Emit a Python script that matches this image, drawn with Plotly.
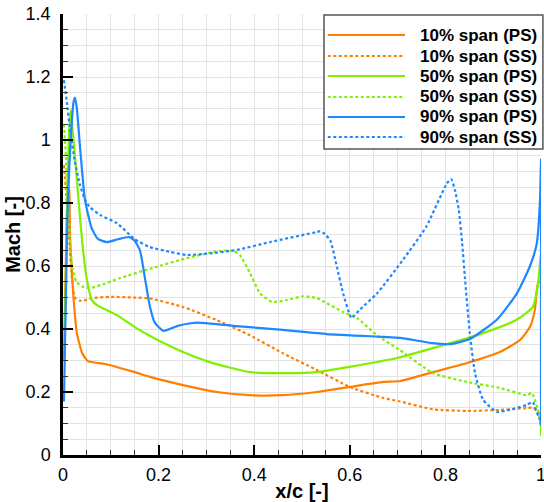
import plotly.graph_objects as go

# Blade-surface isentropic Mach distributions at three span heights
# PS = pressure side, SS = suction side

x_10_ps = [0.002, 0.006, 0.010, 0.013, 0.015, 0.021, 0.029, 0.040, 0.052, 0.088, 0.150, 0.182, 0.251, 0.322,
           0.391, 0.460, 0.531, 0.600, 0.670, 0.705, 0.774, 0.845, 0.914, 0.956, 0.977, 0.987, 0.994, 1.000, 1.000]
m_10_ps = [0.30, 0.62, 0.86, 0.84, 0.68, 0.52, 0.387, 0.324, 0.298, 0.289, 0.263, 0.248, 0.222, 0.200,
           0.190, 0.190, 0.200, 0.216, 0.232, 0.235, 0.263, 0.292, 0.327, 0.365, 0.407, 0.460, 0.546, 0.550, 0.13]

x_10_ss = [0.002, 0.008, 0.014, 0.019, 0.025, 0.035, 0.042, 0.061, 0.098, 0.147, 0.182, 0.251, 0.322, 0.391,
           0.460, 0.531, 0.600, 0.670, 0.705, 0.774, 0.845, 0.914, 0.970, 0.985, 0.992, 1.000]
m_10_ss = [0.92, 0.80, 0.66, 0.556, 0.50, 0.49, 0.49, 0.498, 0.502, 0.500, 0.497, 0.470, 0.428, 0.380,
           0.323, 0.270, 0.216, 0.181, 0.170, 0.145, 0.140, 0.143, 0.149, 0.150, 0.137, 0.13]

x_50_ps = [0.004, 0.008, 0.012, 0.016, 0.019, 0.025, 0.033, 0.040, 0.050, 0.061, 0.071, 0.113, 0.150, 0.182,
           0.251, 0.307, 0.391, 0.460, 0.531, 0.600, 0.699, 0.810, 0.879, 0.950, 0.983, 0.994, 1.000, 1.000]
m_50_ps = [0.40, 0.75, 1.00, 1.095, 1.05, 0.95, 0.80, 0.68, 0.556, 0.49, 0.476, 0.444, 0.406, 0.378,
           0.327, 0.295, 0.263, 0.260, 0.263, 0.280, 0.308, 0.355, 0.387, 0.430, 0.470, 0.546, 0.640, 0.06]

x_50_ss = [0.002, 0.006, 0.010, 0.019, 0.028, 0.040, 0.056, 0.080, 0.120, 0.188, 0.259, 0.328, 0.356, 0.370,
           0.391, 0.412, 0.437, 0.469, 0.502, 0.531, 0.552, 0.586, 0.615, 0.657, 0.705, 0.774, 0.845, 0.914,
           0.970, 0.981, 0.992, 1.000]
m_50_ss = [1.05, 0.95, 0.81, 0.60, 0.55, 0.535, 0.53, 0.54, 0.562, 0.594, 0.625, 0.648, 0.648, 0.635,
           0.578, 0.514, 0.486, 0.492, 0.504, 0.498, 0.482, 0.454, 0.435, 0.380, 0.333, 0.260, 0.232, 0.213,
           0.190, 0.197, 0.152, 0.09]

x_90_ps = [0.002, 0.006, 0.010, 0.016, 0.022, 0.025, 0.029, 0.036, 0.046, 0.060, 0.073, 0.092, 0.115, 0.138,
           0.150, 0.161, 0.172, 0.182, 0.192, 0.210, 0.240, 0.280, 0.356, 0.460, 0.552, 0.670, 0.705, 0.774,
           0.810, 0.851, 0.908, 0.950, 0.977, 0.991, 0.998, 1.000, 1.000]
m_90_ps = [0.17, 0.50, 0.80, 1.00, 1.12, 1.135, 1.10, 0.97, 0.81, 0.72, 0.686, 0.676, 0.685, 0.692,
           0.680, 0.650, 0.556, 0.470, 0.420, 0.394, 0.410, 0.420, 0.410, 0.397, 0.384, 0.375, 0.372, 0.355,
           0.352, 0.368, 0.430, 0.514, 0.600, 0.670, 0.810, 0.940, 0.10]

x_90_ss = [0.002, 0.008, 0.015, 0.025, 0.035, 0.046, 0.056, 0.080, 0.113, 0.150, 0.182, 0.224, 0.259, 0.307,
           0.364, 0.433, 0.531, 0.538, 0.545, 0.559, 0.573, 0.586, 0.600, 0.604, 0.620, 0.657, 0.711, 0.760,
           0.803, 0.812, 0.820, 0.828, 0.835, 0.841, 0.851, 0.862, 0.879, 0.908, 0.941, 0.970, 0.983, 0.990,
           0.998, 1.000]
m_90_ss = [1.19, 1.12, 1.03, 0.93, 0.86, 0.81, 0.787, 0.76, 0.736, 0.685, 0.660, 0.645, 0.635, 0.640,
           0.651, 0.676, 0.708, 0.711, 0.705, 0.682, 0.597, 0.513, 0.444, 0.435, 0.460, 0.513, 0.619, 0.725,
           0.862, 0.876, 0.841, 0.778, 0.673, 0.560, 0.387, 0.260, 0.175, 0.137, 0.146, 0.159, 0.168, 0.140,
           0.110, 0.09]

x_ticks = [0, 0.2, 0.4, 0.6, 0.8, 1.0]
y_ticks = [0, 0.2, 0.4, 0.6, 0.8, 1.0, 1.2, 1.4]

ORANGE = "#ff8000"
GREEN = "#80f000"
BLUE = "#1f88ff"
DOT = "3px,2.5px"

series = [
    ("10% span (PS)", x_10_ps, m_10_ps, ORANGE, "solid"),
    ("10% span (SS)", x_10_ss, m_10_ss, ORANGE, DOT),
    ("50% span (PS)", x_50_ps, m_50_ps, GREEN, "solid"),
    ("50% span (SS)", x_50_ss, m_50_ss, GREEN, DOT),
    ("90% span (PS)", x_90_ps, m_90_ps, BLUE, "solid"),
    ("90% span (SS)", x_90_ss, m_90_ss, BLUE, DOT),
]

FONT = "Liberation Sans, Arial, Helvetica, sans-serif"

fig = go.Figure()
for name, xs, ms, color, dash in series:
    fig.add_trace(go.Scatter(x=xs, y=ms, mode="lines", name=name, cliponaxis=False,
                             line=dict(color=color, width=2.2, dash=dash,
                                       shape="spline", smoothing=0.5),
                             showlegend=False))

# Boxed key in the upper right corner
box = dict(x0=0.546, x1=1.004, y0=0.694, y1=0.998)
fig.add_shape(type="rect", xref="paper", yref="paper", **box,
              line=dict(color="#555555", width=1.5), fillcolor="white", layer="above")
row_px = [35, 56, 76, 97, 117, 137]
for (name, _, _, color, dash), py in zip(series, row_px):
    yp = (455 - py) / 441
    fig.add_shape(type="line", xref="paper", yref="paper",
                  x0=0.554, x1=0.7155, y0=yp, y1=yp,
                  line=dict(color=color, width=2.2, dash=dash), layer="above")
    fig.add_annotation(x=0.9958, y=yp, xref="paper", yref="paper", text=name,
                       showarrow=False, xanchor="right", yanchor="middle",
                       font=dict(family=FONT, size=17, color="black", weight="bold"))

axis_common = dict(
    showline=True, linecolor="black", linewidth=2.5, mirror=False, automargin=False,
    ticks="inside", ticklen=10, tickwidth=2, tickcolor="black", tickmode="array",
    showgrid=True, gridcolor="#e3e3e3", gridwidth=1, zeroline=False,
    tickfont=dict(family=FONT, size=18, color="black"), ticklabeloverflow="allow",
    minor=dict(ticks="inside", ticklen=5, tickwidth=1, tickcolor="#333333",
               dtick=0.05, tick0=0, showgrid=True, gridcolor="#e3e3e3", gridwidth=1),
)

fig.update_layout(
    width=544, height=502,
    margin=dict(l=63, r=3, t=14, b=47),
    plot_bgcolor="white", paper_bgcolor="white",
    xaxis=dict(range=[0, 1], tickvals=x_ticks, ticktext=[f"{v:g}" for v in x_ticks],
               title=dict(text="x/c [-]", standoff=2,
                          font=dict(family=FONT, size=20, color="black", weight="bold")),
               ticklabelstandoff=2, **axis_common),
    yaxis=dict(range=[0, 1.4], tickvals=y_ticks, ticktext=[f"{v:g}" for v in y_ticks],
               title=dict(text="Mach [-]", standoff=0,
                          font=dict(family=FONT, size=20, color="black", weight="bold")),
               ticklabelstandoff=6, **axis_common),
)

fig.write_html("out.html")
